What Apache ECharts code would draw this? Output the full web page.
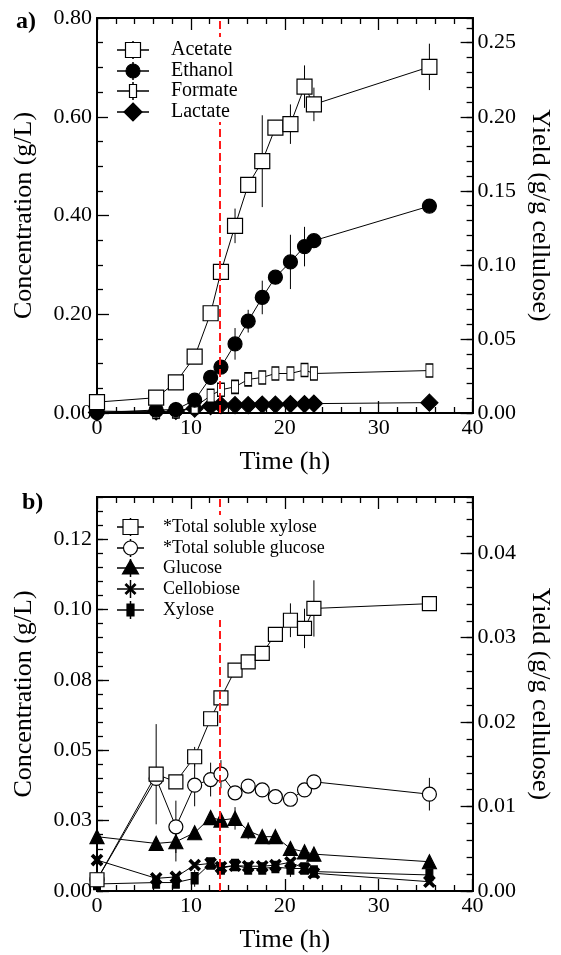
<!DOCTYPE html>
<html><head><meta charset="utf-8">
<script src="https://cdn.jsdelivr.net/npm/echarts@6/dist/echarts.min.js"></script>
<style>html,body{margin:0;padding:0;background:#fff}#c{width:561px;height:955px}</style>
</head><body><div id="c"></div>
<script>
// ---------- DATA ----------
const time = [0, 6.3, 8.4, 10.4, 12.1, 13.2, 14.7, 16.1, 17.6, 19.0, 20.6, 22.1, 23.1, 35.4];
// Panel a (g/L)
const acetate    = [0.022, 0.031, 0.062, 0.114, 0.202, 0.286, 0.379, 0.462, 0.510, 0.578, 0.585, 0.661, 0.625, 0.701];
const acetateErr = [0.008, 0, 0, 0.006, 0, 0, 0.035, 0.010, 0.093, 0.010, 0.040, 0.043, 0.034, 0.047];
const ethanol    = [0.001, 0.006, 0.007, 0.026, 0.072, 0.093, 0.140, 0.186, 0.234, 0.275, 0.306, 0.337, 0.349, 0.419];
const ethanolErr = [0, 0, 0, 0.005, 0, 0, 0.032, 0.023, 0.034, 0, 0.055, 0.040, 0, 0];
const formate    = [0.004, 0.002, 0.003, 0.012, 0.035, 0.047, 0.053, 0.068, 0.072, 0.080, 0.080, 0.087, 0.080, 0.086];
const formateErr = [0, 0, 0, 0, 0, 0, 0, 0, 0, 0, 0, 0.006, 0, 0];
const lactate    = [0.001, 0.003, 0.004, 0.009, 0.014, 0.016, 0.016, 0.016, 0.017, 0.017, 0.018, 0.018, 0.019, 0.021];
// Panel b (g/L)
const totXylose    = [0.004, 0.0415, 0.0388, 0.0477, 0.0612, 0.0686, 0.0785, 0.0814, 0.0844, 0.0912, 0.0962, 0.0933, 0.1004, 0.1021];
const totXyloseErr = [0, 0.0178, 0, 0.0035, 0, 0, 0, 0, 0, 0, 0.006, 0.007, 0.010, 0.001];
const totGlucose    = [0.004, 0.0400, 0.0228, 0.0376, 0.0396, 0.0415, 0.0349, 0.0373, 0.0359, 0.0335, 0.0326, 0.0359, 0.0388, 0.0344];
const totGlucoseErr = [0, 0, 0.0093, 0.0075, 0.006, 0.005, 0, 0, 0, 0, 0, 0, 0, 0.0058];
const glucose    = [0.0193, 0.0169, 0.0175, 0.0207, 0.0261, 0.0252, 0.0258, 0.0214, 0.0193, 0.0193, 0.0151, 0.0139, 0.0131, 0.0104];
const glucoseErr = [0, 0.002, 0.007, 0, 0, 0, 0.004, 0.003, 0, 0, 0, 0, 0, 0];
const cellobiose = [0.011, 0.0045, 0.005, 0.0092, 0.0098, 0.0085, 0.009, 0.0088, 0.0088, 0.0092, 0.0102, 0.008, 0.0063, 0.0033];
const xylose     = [0.0025, 0.003, 0.003, 0.0045, 0.0098, 0.008, 0.0092, 0.008, 0.008, 0.0085, 0.008, 0.008, 0.0069, 0.0057];
const xyloseErr  = [0, 0, 0, 0.003, 0, 0, 0, 0, 0, 0, 0.003, 0, 0, 0];
const inoculationTime = 13.1;
// Tick labels
const xTickLabels = ['0', '10', '20', '30', '40'];
const aLeftLabels  = ['0.00', '0.20', '0.40', '0.60', '0.80'];
const aRightLabels = ['0.00', '0.05', '0.10', '0.15', '0.20', '0.25'];
const bLeftLabels  = ['0.00', '0.03', '0.05', '0.08', '0.10', '0.12'];
const bRightLabels = ['0.00', '0.01', '0.02', '0.03', '0.04'];
const legendA = ['Acetate', 'Ethanol', 'Formate', 'Lactate'];
const legendB = ['*Total soluble xylose', '*Total soluble glucose', 'Glucose', 'Cellobiose', 'Xylose'];

// ---------- STYLE / LAYOUT ----------
const FONT = 'Liberation Serif';
const BLACK = '#000';
const X_PATH = 'path://M0,1.6L1.6,0L5,3.4L8.4,0L10,1.6L6.6,5L10,8.4L8.4,10L5,6.6L1.6,10L0,8.4L3.4,5Z';

function lbl(arr, step) { return v => { const s = arr[Math.round(v / step)]; return s === undefined ? '' : s; }; }

function xAx(grid, pos, showLabels) {
  return {
    type: 'value', gridIndex: grid, position: pos, min: 0, max: 40, interval: 10,
    axisLine: { show: true, onZero: false, lineStyle: { color: BLACK, width: 2 } },
    axisTick: { show: true, inside: true, length: 12, lineStyle: { color: BLACK, width: 1.3 } },
    minorTick: { show: true, splitNumber: 5, length: 6, lineStyle: { color: BLACK, width: 1.3 } },
    splitLine: { show: false }, minorSplitLine: { show: false },
    axisLabel: { show: showLabels, color: BLACK, fontFamily: FONT, fontSize: 22, margin: 4, formatter: lbl(xTickLabels, 10) },
    name: showLabels ? 'Time (h)' : '', nameLocation: 'middle', nameGap: 36,
    nameTextStyle: { color: BLACK, fontFamily: FONT, fontSize: 26 }
  };
}
function yAx(grid, pos, max, interval, len, labels, name, minorSplit) {
  const ax = {
    type: 'value', gridIndex: grid, position: pos, min: 0, max: max, interval: interval,
    axisLine: { show: true, onZero: false, lineStyle: { color: BLACK, width: 2 } },
    axisTick: { show: true, inside: true, length: len, lineStyle: { color: BLACK, width: 1.3 } },
    splitLine: { show: false },
    axisLabel: labels ? { show: true, color: BLACK, fontFamily: FONT, fontSize: 22, margin: 5,
      showMaxLabel: Math.abs(max / interval - Math.round(max / interval)) < 1e-6, formatter: lbl(labels, interval) } : { show: false },
  };
  if (minorSplit) ax.minorTick = { show: true, splitNumber: minorSplit, length: 6, lineStyle: { color: BLACK, width: 1.3 } };
  if (name) {
    ax.name = name; ax.nameLocation = 'middle';
    ax.nameRotate = pos === 'left' ? 90 : -90;
    ax.nameGap = pos === 'left' ? 60 : 54;
    ax.nameTextStyle = { color: BLACK, fontFamily: FONT, fontSize: 26 };
  }
  return ax;
}

const xAxis = [xAx(0, 'bottom', true), xAx(0, 'top', false), xAx(1, 'bottom', true), xAx(1, 'top', false)];
const aMax = 0.8, bMax = 0.14;
const yAxis = [
  yAx(0, 'left', aMax, 0.2, 12, aLeftLabels, 'Concentration (g/L)', 4),      // 0
  yAx(0, 'right', aMax / 3, 0.05, 12, aRightLabels, 'Yield (g/g cellulose)'), // 1
  yAx(0, 'right', aMax / 3, 0.01, 6, null),                                   // 2
  yAx(1, 'left', bMax, 0.025, 12, bLeftLabels, 'Concentration (g/L)'),        // 3
  yAx(1, 'left', bMax, 0.005, 6, null),                                       // 4
  yAx(1, 'right', bMax / 3, 0.01, 12, bRightLabels, 'Yield (g/g cellulose)'), // 5
  yAx(1, 'right', bMax / 3, 0.002, 6, null)                                   // 6
];

function lineSeries(name, xi, yi, vals, symbol, size, fill) {
  return {
    name, type: 'line', xAxisIndex: xi, yAxisIndex: yi,
    data: time.map((t, i) => [t, vals[i]]),
    symbol, symbolSize: size, showAllSymbol: true, clip: false,
    lineStyle: { color: BLACK, width: 1 },
    itemStyle: { color: fill, borderColor: BLACK, borderWidth: 1.2 },
    z: 3, animation: false
  };
}
function errSeries(xi, yi, vals, errs) {
  return {
    type: 'custom', xAxisIndex: xi, yAxisIndex: yi, z: 2, silent: true,
    data: time.map((t, i) => [t, vals[i] - errs[i], vals[i] + errs[i]]).filter((d, i) => errs[i] > 0),
    encode: { x: 0, y: [1, 2] },
    renderItem: (params, api) => {
      const p1 = api.coord([api.value(0), api.value(1)]);
      const p2 = api.coord([api.value(0), api.value(2)]);
      return { type: 'line', shape: { x1: p1[0], y1: p1[1], x2: p2[0], y2: p2[1] }, style: { stroke: BLACK, lineWidth: 1 } };
    }
  };
}
function redLine(xi, yi) {
  return {
    type: 'line', xAxisIndex: xi, yAxisIndex: yi, data: [], z: 1, silent: true,
    markLine: { silent: true, symbol: 'none', label: { show: false }, animation: false,
      lineStyle: { color: '#ff1a1a', type: [8, 4], width: 2 }, data: [{ xAxis: inoculationTime }] }
  };
}

const series = [
  redLine(0, 0), redLine(2, 3),
  errSeries(0, 0, acetate, acetateErr), errSeries(0, 0, ethanol, ethanolErr), errSeries(0, 0, formate, formateErr),
  lineSeries(legendA[3], 0, 0, lactate, 'diamond', [17, 17], BLACK),
  lineSeries(legendA[2], 0, 0, formate, 'rect', [7, 13], '#fff'),
  lineSeries(legendA[1], 0, 0, ethanol, 'circle', 14, BLACK),
  lineSeries(legendA[0], 0, 0, acetate, 'rect', 15, '#fff'),
  errSeries(2, 3, totXylose, totXyloseErr), errSeries(2, 3, totGlucose, totGlucoseErr),
  errSeries(2, 3, glucose, glucoseErr), errSeries(2, 3, xylose, xyloseErr),
  lineSeries(legendB[4], 2, 3, xylose, 'rect', [7, 11], BLACK),
  lineSeries(legendB[3], 2, 3, cellobiose, X_PATH, 11, BLACK),
  lineSeries(legendB[2], 2, 3, glucose, 'triangle', 14, BLACK),
  lineSeries(legendB[1], 2, 3, totGlucose, 'circle', 14, '#fff'),
  lineSeries(legendB[0], 2, 3, totXylose, 'rect', 14, '#fff')
];

// ---------- LEGEND (graphic) ----------
function marker(kind, cx, cy) {
  const st = (f) => ({ fill: f, stroke: BLACK, lineWidth: 1.2 });
  switch (kind) {
    case 'oSquare': return { type: 'rect', shape: { x: cx - 7.5, y: cy - 7.5, width: 15, height: 15 }, style: st('#fff') };
    case 'fCircle': return { type: 'circle', shape: { cx, cy, r: 7 }, style: st(BLACK) };
    case 'oCircle': return { type: 'circle', shape: { cx, cy, r: 7 }, style: st('#fff') };
    case 'oNarrow': return { type: 'rect', shape: { x: cx - 3.5, y: cy - 6.5, width: 7, height: 13 }, style: st('#fff') };
    case 'fNarrow': return { type: 'rect', shape: { x: cx - 3.5, y: cy - 6, width: 7, height: 12 }, style: st(BLACK) };
    case 'diamond': return { type: 'polygon', shape: { points: [[cx, cy - 9], [cx + 9, cy], [cx, cy + 9], [cx - 9, cy]] }, style: st(BLACK) };
    case 'triangle': return { type: 'polygon', shape: { points: [[cx, cy - 8], [cx + 8, cy + 6], [cx - 8, cy + 6]] }, style: st(BLACK) };
    case 'x': return { type: 'polygon', shape: { points: [[0,1.6],[1.6,0],[5,3.4],[8.4,0],[10,1.6],[6.6,5],[10,8.4],[8.4,10],[5,6.6],[1.6,10],[0,8.4],[3.4,5]].map(p => [cx - 6 + p[0] * 1.2, cy - 6 + p[1] * 1.2]) }, style: { fill: BLACK } };
  }
}
function legendItems(names, kinds, x0, x1, tx, ys, fs) {
  const els = [];
  names.forEach((n, i) => {
    const y = ys[i], cx = (x0 + x1) / 2;
    els.push({ type: 'line', z: 101, shape: { x1: x0, y1: y, x2: x1, y2: y }, style: { stroke: BLACK, lineWidth: 1.5 } });
    els.push({ type: 'line', z: 101, shape: { x1: cx, y1: y - 9, x2: cx, y2: y + 9 }, style: { stroke: BLACK, lineWidth: 1.5 } });
    const m = marker(kinds[i], cx, y); m.z = 102; els.push(m);
    els.push({ type: 'text', z: 102, x: tx, y: y, style: { text: n, fill: BLACK, font: fs + 'px "' + FONT + '"', textVerticalAlign: 'middle', verticalAlign: 'middle' } });
  });
  return els;
}
const graphic = [
  { type: 'rect', z: 100, shape: { x: 108, y: 37, width: 135, height: 85 }, style: { fill: '#fff' } },
  { type: 'rect', z: 100, shape: { x: 108, y: 515, width: 132, height: 105 }, style: { fill: '#fff' } },
  ...legendItems(legendA, ['oSquare', 'fCircle', 'oNarrow', 'diamond'], 117, 149, 171, [50, 71, 91, 112], 20),
  ...legendItems(legendB, ['oSquare', 'oCircle', 'triangle', 'x', 'fNarrow'], 117, 144, 163, [527, 548, 568, 589, 610], 18),
  { type: 'text', z: 102, x: 16, y: 22, style: { text: 'a)', fill: BLACK, font: 'bold 24px "' + FONT + '"', verticalAlign: 'middle' } },
  { type: 'text', z: 102, x: 22, y: 503, style: { text: 'b)', fill: BLACK, font: 'bold 24px "' + FONT + '"', verticalAlign: 'middle' } }
];

const chart = echarts.init(document.getElementById('c'), null, { renderer: 'canvas' });
chart.setOption({
  backgroundColor: '#fff', animation: false,
  grid: [
    { left: 97, top: 18, width: 376, height: 395, containLabel: false },
    { left: 97, top: 497, width: 376, height: 394, containLabel: false }
  ],
  xAxis, yAxis, series, graphic
});
</script></body></html>
